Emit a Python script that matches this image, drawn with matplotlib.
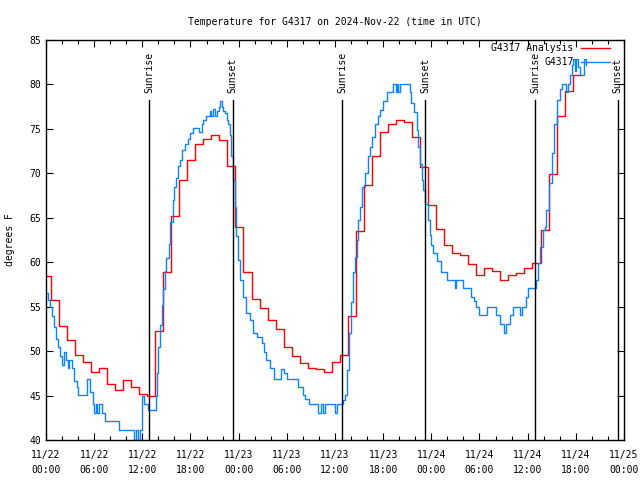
import numpy as np
import matplotlib
matplotlib.use("Agg")
import matplotlib.pyplot as plt

# hours since 2024-11-22 00:00 UTC
obs_hours = [0.0, 0.25, 0.5, 0.75, 1.0, 1.25, 1.5, 1.75, 2.0, 2.2, 2.5, 2.7, 2.9, 3.2, 3.5, 3.8,
             4.0, 5.1, 5.5, 5.8, 6.0, 6.2, 6.4, 6.6, 7.0, 7.4, 9.1, 11.0, 11.2, 11.5, 11.7, 11.9,
             12.0, 12.15, 12.7, 13.65, 13.8, 14.0, 14.2, 14.4, 14.6, 14.8, 15.0, 15.3, 15.5, 15.8,
             16.0, 16.2, 16.5, 16.7, 17.0, 17.3, 17.7, 18.0, 18.3, 18.7, 19.0, 19.2, 19.4, 19.6,
             19.9, 20.2, 20.4, 20.6, 20.8, 21.0, 21.3, 21.5, 21.7, 21.9, 22.1, 22.3, 22.5, 22.7,
             22.9, 23.1, 23.3, 23.5, 23.7, 23.9, 24.2, 24.5, 24.9, 25.4, 25.8, 26.3, 26.85, 27.1,
             27.4, 27.9, 28.4, 29.3, 29.7, 30.0, 31.4, 32.0, 32.3, 32.7, 33.9, 34.2, 34.5, 34.8,
             36.0, 36.3, 37.0, 37.3, 37.5, 37.8, 38.0, 38.3, 38.5, 38.7, 38.9, 39.1, 39.4, 39.7,
             40.1, 40.4, 40.6, 41.0, 41.3, 41.6, 42.0, 42.5, 43.0, 43.2, 43.6, 43.7, 43.9, 44.1,
             45.0, 45.3, 45.5, 45.8, 46.2, 46.4, 46.6, 46.8, 46.9, 47.2, 47.6, 47.8, 48.0, 48.2,
             48.7, 49.2, 50.0, 51.0, 51.1, 51.9, 53.0, 53.3, 53.6, 54.0, 54.9, 56.0, 56.5, 57.0,
             57.3, 57.8, 58.2, 59.0, 59.3, 59.8, 60.1, 61.1, 61.3, 61.5, 61.9, 62.1, 62.3, 62.6,
             62.97, 63.3, 63.6, 64.0, 64.3, 64.8, 65.0, 65.3, 65.5, 65.7, 65.9, 66.0, 66.3, 66.5,
             67.0, 67.3]
obs_temp = [56.5, 55.8, 55.0, 54.0, 52.75, 51.4, 50.5, 49.4, 48.4, 49.9, 49.0, 48.1, 49.0, 48.1, 46.6, 46.0,
            45.1, 46.9, 45.4, 44.1, 43.0, 44.1, 43.0, 44.1, 43.0, 42.1, 41.1, 40.0, 41.1, 40.0, 41.1, 42.0,
            44.9, 44.0, 43.4, 45.0, 47.5, 50.5, 52.9, 55.2, 57.0, 59.0, 60.5, 62.0, 64.5, 67.0,
            68.5, 69.5, 70.8, 71.5, 72.6, 73.3, 73.9, 74.5, 75.1, 75.1, 74.7, 74.7, 75.5, 76.0,
            76.4, 76.4, 77.0, 76.4, 77.2, 76.4, 77.0, 77.5, 78.1, 77.5, 77.0, 76.75, 76.0, 75.6,
            74.3, 71.9, 69.25, 66.25, 62.9, 60.25, 58.0, 56.1, 54.25, 53.5, 52.0, 51.6, 50.9, 49.9,
            49.0, 48.1, 46.9, 48.0, 47.5, 46.9, 46.0, 45.1, 44.6, 44.05, 43.0, 44.05, 43.0, 44.05,
            43.0, 44.05, 44.5, 45.1, 47.9, 52.0, 55.5, 58.9, 60.6, 62.5, 64.75, 66.25, 68.5, 70.0,
            71.9, 73.0, 74.1, 75.6, 76.4, 77.1, 78.1, 79.1, 79.1, 80.0, 79.1, 80.0, 79.1, 80.0,
            80.0, 79.1, 77.9, 76.9, 74.9, 73.0, 71.1, 69.25, 68.1, 66.6, 64.75, 63.1, 61.9, 61.0,
            60.1, 58.9, 58.0, 57.1, 58.0, 57.1, 56.1, 55.6, 55.0, 54.1, 55.0, 54.1, 53.0, 52.0,
            53.0, 54.1, 55.0, 54.1, 55.0, 56.1, 57.1, 58.0, 59.9, 61.75, 63.6, 64.0, 65.9, 68.9,
            72.25, 75.6, 78.25, 79.5, 80.0, 79.2, 80.0, 81.1, 82.2, 82.9, 81.5, 82.9, 82.0, 81.1,
            82.9, 82.2]

# hourly analysis, each value holds from (hour - 0.4)
ana_temp = [58.5, 55.8, 52.8, 51.2, 49.6, 48.8, 47.6, 48.1, 46.3, 45.6, 46.8, 46.0, 45.2, 45.0,
            52.3, 58.9, 65.2, 69.2, 71.5, 73.3, 73.9, 74.3, 73.8, 70.8, 64.0, 58.9, 55.9, 54.8,
            53.5, 52.5, 50.5, 49.45, 48.7, 48.1, 48.0, 47.6, 48.75, 49.6, 54.0, 63.5, 68.7, 72.0,
            74.7, 75.6, 76.0, 75.8, 74.05, 70.75, 66.4, 63.7, 61.9, 61.0, 60.8, 59.8, 58.6, 59.3,
            59.0, 58.0, 58.6, 58.8, 59.3, 59.95, 63.6, 69.9, 76.4, 79.3, 81.1, 81.1]
ana_hours = np.arange(len(ana_temp)) - 0.4
ana_hours[0] = 0.0

sunrise = [12.85, 36.88, 60.9]
sunset = [23.25, 47.27, 71.2]

xtick_labels = ["11/22\n00:00", "11/22\n06:00", "11/22\n12:00", "11/22\n18:00",
                "11/23\n00:00", "11/23\n06:00", "11/23\n12:00", "11/23\n18:00",
                "11/24\n00:00", "11/24\n06:00", "11/24\n12:00", "11/24\n18:00",
                "11/25\n00:00"]

plt.rcParams['font.family'] = ['DejaVu Sans Mono']
plt.rcParams['font.size'] = 7

fig = plt.figure(figsize=(6.4, 4.8), dpi=100)
ax = fig.add_axes([46 / 640, 40 / 480, 578 / 640, 400 / 480])

ax.plot(ana_hours, ana_temp, drawstyle='steps-post', color='#ff0000', lw=1.0)
ax.plot(obs_hours, obs_temp, drawstyle='steps-post', color='#0a84ff', lw=1.0)

for h in sunrise:
    ax.plot([h, h], [40, 78.25], color='black', lw=1.0)
    ax.text(h, 79.0, "Sunrise", rotation=90, ha='center', va='bottom', fontsize=7)
for h in sunset:
    ax.plot([h, h], [40, 78.25], color='black', lw=1.0)
    ax.text(h, 79.0, "Sunset", rotation=90, ha='center', va='bottom', fontsize=7)

ax.set_xlim(0, 72)
ax.set_ylim(40, 85)
ax.set_xticks(np.arange(0, 73, 6))
ax.set_xticks(np.arange(0, 73, 2), minor=True)
ax.set_xticklabels(xtick_labels, linespacing=1.6)
ax.set_yticks(np.arange(40, 86, 5))
ax.tick_params(which='both', direction='in', top=True, right=True, labelsize=7)
ax.tick_params(which='major', length=5, width=0.8)
ax.tick_params(which='minor', length=3, width=0.8)
ax.tick_params(axis='x', pad=7)
for sp in ax.spines.values():
    sp.set_linewidth(1.0)

ax.set_ylabel("degrees F", fontsize=7, labelpad=10)
ax.set_title("Temperature for G4317 on 2024-Nov-22 (time in UTC)", fontsize=7, pad=11)

# legend drawn by hand, gnuplot style (text left of the sample line)
ax.text(0.913, 0.98, "G4317 Analysis", transform=ax.transAxes, ha='right', va='center', fontsize=7)
ax.plot([0.925, 0.975], [0.98, 0.98], transform=ax.transAxes, color='#ff0000', lw=1.0, clip_on=False)
ax.text(0.913, 0.945, "G4317", transform=ax.transAxes, ha='right', va='center', fontsize=7)
ax.plot([0.925, 0.975], [0.945, 0.945], transform=ax.transAxes, color='#0a84ff', lw=1.0, clip_on=False)

fig.savefig("out.png", dpi=100)
